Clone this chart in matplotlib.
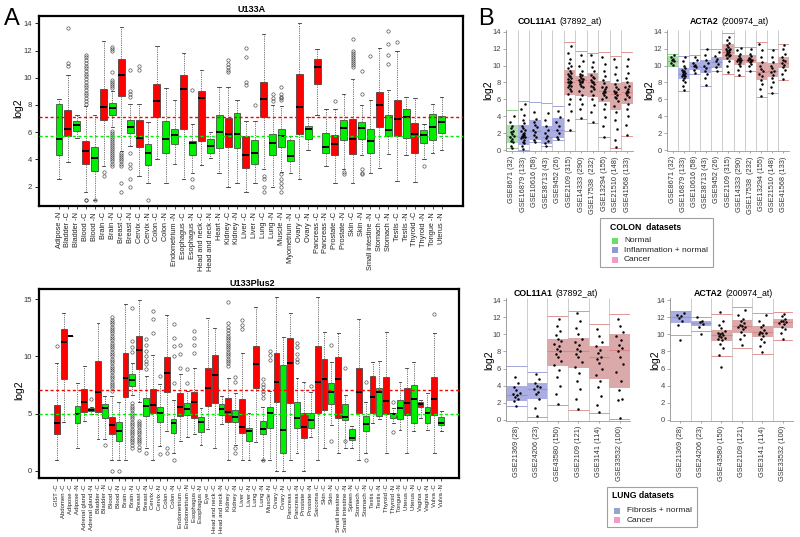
#! /usr/bin/env python3
#
# Tissue expression boxplots (A) and colon / lung dataset strip plots (B)

import matplotlib

matplotlib.use("Agg")

import matplotlib.pyplot as plt
import numpy as np
from matplotlib.patches import Rectangle

plt.rcParams["font.family"] = ["Liberation Sans", "DejaVu Sans"]

# ---------------------------------------------------------------- Panel A, U133A
a1_labels = ["Adipose -N", "Bladder -C", "Bladder -N", "Blood -C", "Blood -N", "Brain -C", "Brain -N",
             "Breast -C", "Breast -N", "Cervix -C", "Cervix -N", "Colon -C", "Colon -N", "Endometrium -N",
             "Esophagus -C", "Esophagus -N", "Head and neck -C", "Head and neck -N", "Heart -N", "Kidney -C",
             "Kidney -N", "Liver -C", "Liver -N", "Lung -C", "Lung -N", "Muscle -N", "Myometrium -N",
             "Ovary -C", "Ovary -N", "Pancreas -C", "Pancreas -N", "Prostate -C", "Prostate -N", "Skin -C",
             "Skin -N", "Small intestine -N", "Stomach -C", "Stomach -N", "Testis -C", "Testis -N",
             "Thyroid -C", "Thyroid -N", "Tongue -N", "Uterus -N"]
a1_lo = [2.6, 3.8, 5.6, 1.6, 1.05, 3.5, 6.4, 4.6, 5.0, 2.8, 2.3, 4.0, 2.3, 3.7, 2.6, 3.0, 3.6, 4.1, 3.0, 2.0,
         2.3, 1.6, 2.3, 3.3, 2.0, 3.1, 3.0, 2.6, 4.7, 7.3, 3.5, 2.3, 3.3, 2.3, 4.3, 3.0, 3.4, 4.4, 2.4, 4.3,
         2.35, 4.0, 4.5, 4.7]
a1_q1 = [4.35, 5.75, 6.1, 3.7, 3.15, 6.9, 7.3, 8.65, 5.95, 4.9, 3.6, 7.1, 4.5, 5.1, 6.25, 4.35, 5.35, 4.45,
         4.85, 4.9, 4.85, 3.35, 3.7, 7.1, 4.3, 4.9, 3.85, 5.85, 5.5, 9.55, 4.5, 4.3, 5.45, 4.4, 5.5, 4.45,
         6.35, 5.7, 5.7, 5.55, 4.5, 5.2, 5.4, 5.95]
a1_med = [5.5, 6.25, 6.5, 4.6, 4.1, 7.85, 7.8, 10.2, 6.4, 5.6, 4.45, 8.3, 5.5, 5.8, 9.15, 5.2, 8.5, 5.0, 6.05,
          5.9, 5.85, 4.3, 4.5, 8.45, 5.2, 5.7, 4.25, 7.85, 6.25, 10.8, 4.95, 5.15, 6.3, 5.5, 6.3, 5.35, 8.0,
          6.15, 7.0, 7.15, 5.85, 5.8, 6.35, 6.75]
a1_q3 = [8.1, 7.6, 6.85, 5.35, 4.95, 9.2, 8.15, 11.4, 6.9, 6.9, 5.15, 9.55, 6.85, 6.2, 10.2, 5.35, 9.0, 5.5,
         7.3, 7.05, 7.4, 5.7, 5.4, 9.7, 5.85, 6.25, 5.45, 10.3, 6.45, 11.4, 5.95, 5.8, 6.9, 7.0, 6.75, 6.2,
         8.95, 7.3, 8.35, 7.7, 6.7, 6.15, 7.35, 7.2]
a1_hi = [8.45, 10.2, 7.25, 7.9, 7.25, 12.7, 9.0, 13.75, 8.1, 8.1, 6.75, 12.3, 9.25, 8.4, 11.8, 6.6, 10.6, 6.0,
         9.35, 9.3, 8.4, 6.85, 6.85, 13.2, 8.0, 7.9, 5.7, 14.05, 7.15, 12.1, 7.7, 7.7, 8.8, 9.9, 8.0, 8.4,
         12.2, 9.1, 12.0, 8.6, 8.5, 6.6, 8.1, 8.6]
a1_fliers = {
    "Bladder -C": [10.9, 11.1, 13.65],
    "Blood -C": [1.0, 1.05, 8.1, 8.3, 8.5, 8.7, 8.9, 9.1, 9.3, 9.5, 9.7, 9.9, 10.1, 10.3, 10.5, 10.7, 10.9,
                 11.1, 11.3, 11.5, 11.7],
    "Blood -N": [1.0],
    "Brain -C": [3.1, 2.8],
    "Brain -N": [9.25, 9.4, 9.55, 9.7, 9.85, 10.45, 11.95, 12.1, 12.25, 6.1, 5.95, 5.8, 5.65, 5.5, 5.35, 5.2,
                 5.05, 4.9, 4.75, 4.6, 4.45, 4.3, 4.15, 4.0, 3.85, 3.7, 3.55],
    "Breast -C": [4.45, 4.3, 4.15, 4.0, 3.85, 3.7, 3.5, 2.3, 1.6],
    "Breast -N": [8.6, 8.8, 9.0, 10.6, 4.5, 3.7, 3.4, 2.6, 2.0],
    "Cervix -C": [10.6, 10.9],
    "Cervix -N": [1.0],
    "Esophagus -N": [9.1, 2.6, 2.0],
    "Kidney -C": [10.4, 10.6, 10.8, 11.0, 11.3],
    "Liver -C": [9.5, 9.7, 11.5, 12.2],
    "Liver -N": [8.0],
    "Lung -C": [2.8, 2.6, 2.0, 1.6],
    "Lung -N": [8.3, 8.5, 8.8],
    "Muscle -N": [8.4, 8.5, 8.6, 8.8, 9.3, 2.9, 2.6, 2.3, 2.0, 1.6],
    "Prostate -C": [8.3],
    "Prostate -N": [2.9, 3.1],
    "Skin -C": [10.8, 10.95, 11.1, 11.25, 11.4, 11.55, 11.7, 11.85, 12.0, 12.85],
    "Skin -N": [8.8, 10.5, 3.3, 3.0, 2.9],
    "Small intestine -N": [11.6],
    "Stomach -N": [11.0, 11.7, 12.5, 13.4],
    "Testis -C": [12.6],
    "Thyroid -N": [3.5],
}
a1_ref = (7.15, 5.75)  # red (cancer) and green (normal) reference levels

# ---------------------------------------------------------------- Panel A, U133Plus2
a2_labels = ["GIST -C", "Abdomen -C", "Adipose -C", "Adipose -N", "Adrenal gland -C", "Adrenal gland -N",
             "Bladder -C", "Bladder -N", "Blood -C", "Blood -N", "Brain -C", "Brain -N", "Breast -C",
             "Breast -N", "Cervix -C", "Cervix -N", "Colon -C", "Colon -N", "Endometrium -C", "Endometrium -N",
             "Esophagus -C", "Esophagus -N", "Eye -C", "Head and neck -C", "Head and neck -N", "Kidney -C",
             "Kidney -N", "Liver -C", "Liver -N", "Lung -C", "Lung -N", "Muscle -N", "Ovary -C", "Ovary -N",
             "Pancreas -C", "Pancreas -N", "Prostate -C", "Prostate -N", "Sarcoma -C", "Skin -C", "Skin -N",
             "Small intestine -C", "Small intestine -N", "Spleen -N", "Stomach -C", "Stomach -N", "Testis -C",
             "Testis -N", "Thyroid -C", "Thyroid -N", "Tongue -N", "Uterus -C", "Uterus -N", "Vagina -C",
             "Vagina -N", "Vulva -C", "Vulva -N"]
a2_lo = [1.0, 4.3, 11.8, 2.0, 4.4, 5.0, 2.8, 2.8, 1.0, 1.0, 1.0, 6.6, 6.0, 2.0, 1.0, 2.2, 3.5, 1.6, 2.6, 3.0,
         3.2, 2.3, 3.7, 1.97, 4.1, 1.0, 2.3, 1.0, 1.0, 2.5, 1.0, 1.0, 0.0, 0.0, 1.0, 1.6, 0.0, 3.0, 1.0, 2.0,
         4.0, 1.6, 2.0, 2.0, 1.0, 1.6, 4.2, 4.5, 1.6, 4.2, 3.6, 1.6, 3.5, 4.6, 3.6, 1.6, 3.5]
a2_q1 = [3.2, 8.0, 11.8, 4.15, 5.17, 5.22, 5.17, 4.65, 3.23, 2.62, 6.48, 7.44, 8.9, 4.82, 5.03, 4.3, 6.86,
         3.34, 4.82, 4.88, 4.59, 3.43, 5.69, 5.9, 4.88, 4.24, 4.24, 3.34, 2.62, 7.26, 3.2, 3.78, 6.04, 1.6,
         5.9, 3.72, 2.85, 3.78, 5.03, 5.32, 5.81, 4.65, 4.45, 2.7, 5.03, 3.49, 5.03, 4.82, 4.94, 4.59, 4.5,
         4.88, 4.2, 5.54, 4.16, 4.88, 4.0]
a2_med = [4.15, 11.25, 11.8, 4.94, 6.0, 5.35, 6.92, 5.45, 4.0, 3.5, 8.08, 7.94, 10.55, 5.7, 5.75, 5.03, 8.57,
          4.16, 5.6, 5.4, 5.99, 4.24, 7.21, 8.37, 5.4, 5.17, 4.74, 3.86, 3.49, 9.3, 3.66, 5.1, 7.79, 3.57,
          9.39, 4.59, 3.86, 4.45, 7.79, 8.02, 6.92, 8.02, 4.74, 2.9, 6.86, 4.14, 6.48, 6.86, 6.1, 4.94, 5.5,
          5.9, 6.28, 5.8, 5.08, 6.28, 4.21]
a2_q3 = [5.75, 12.4, 11.8, 5.7, 7.12, 5.45, 9.6, 5.84, 4.71, 4.3, 10.26, 8.43, 11.8, 6.39, 7.15, 5.6, 9.91,
         4.53, 6.77, 5.9, 6.86, 4.68, 9.0, 10.1, 5.84, 6.34, 5.32, 6.25, 3.78, 10.9, 4.36, 5.6, 10.3, 9.24,
         11.57, 6.04, 5.03, 5.1, 10.9, 9.76, 7.64, 9.97, 5.81, 3.66, 9.0, 4.82, 8.31, 7.21, 8.22, 5.1, 6.15,
         7.2, 7.5, 6.04, 5.54, 8.17, 4.73]
a2_hi = [9.4, 13.8, 11.8, 7.7, 9.18, 5.6, 12.9, 6.5, 6.5, 6.0, 14.6, 9.4, 14.9, 8.3, 10.1, 7.6, 13.6, 6.2,
         8.5, 7.0, 9.0, 5.5, 13.37, 12.5, 6.5, 8.1, 6.8, 10.26, 5.1, 14.3, 5.6, 7.0, 15.2, 11.7, 13.8, 8.1,
         7.79, 6.9, 15.2, 12.15, 9.47, 12.0, 6.6, 3.9, 13.3, 6.0, 9.53, 9.6, 12.15, 5.5, 7.8, 9.0, 9.5, 6.2,
         6.8, 12.06, 5.2]
a2_fliers = {
    "GIST -C": [10.9],
    "Adrenal gland -N": [6.3],
    "Bladder -N": [2.3],
    "Blood -C": [0.0, 7.0, 7.2, 7.4, 7.6, 7.8, 8.0, 8.2, 8.4, 8.6, 8.8, 9.0, 9.2, 9.4, 9.6, 9.8, 10.0, 10.2,
                 10.4, 10.6, 10.8, 11.0, 11.2, 11.4, 11.6, 11.8, 12.0, 12.2, 12.4, 12.6, 12.8, 13.0, 13.2, 13.4],
    "Blood -N": [0.0],
    "Brain -N": [10.4, 10.8, 11.3, 14.2, 5.9, 5.7, 5.5, 5.3, 5.1, 4.9, 4.7, 4.5, 4.3, 4.1, 3.9, 3.7, 3.5,
                 3.3, 3.1, 2.9, 2.7, 2.5, 2.3, 2.0],
    "Breast -C": [4.4, 4.2, 4.0, 3.8, 3.6, 3.4, 3.2, 3.0, 2.8, 2.6, 2.4, 2.1, 1.8],
    "Breast -N": [8.9, 9.3, 9.6, 10.0, 10.5, 11.0, 11.5, 1.6],
    "Cervix -C": [12.0, 13.3, 14.0],
    "Cervix -N": [8.3, 1.5],
    "Colon -C": [2.0, 1.6],
    "Colon -N": [7.7, 10.0, 10.9, 11.6, 12.8, 1.0],
    "Endometrium -C": [9.0, 10.2, 11.0],
    "Endometrium -N": [7.7, 8.9],
    "Esophagus -C": [10.3, 11.0, 11.6, 12.2],
    "Kidney -C": [9.2, 9.4, 9.6, 9.8, 10.0, 10.2, 10.4, 10.6, 10.8, 11.0, 11.2, 11.4, 11.6, 11.8, 12.0, 12.3,
                  12.6, 12.9, 14.7],
    "Kidney -N": [7.8, 8.2, 2.0, 1.6],
    "Liver -C": [12.4, 12.7, 13.2],
    "Lung -N": [6.4, 6.7, 7.0, 7.3, 7.6, 8.0, 1.0],
    "Muscle -N": [9.7, 10.1, 10.5],
    "Pancreas -N": [9.5, 9.8, 10.2, 10.8, 11.2],
    "Prostate -N": [7.4],
    "Skin -N": [11.0, 2.6],
    "Small intestine -N": [9.0, 2.6],
    "Stomach -N": [7.8, 1.0],
    "Thyroid -N": [6.0, 3.4],
    "Vulva -C": [13.7],
}
a2_ref = (7.05, 4.94)

# ---------------------------------------------------------------- Panel B, colon datasets
colon_names = ["GSE8671 (32)", "GSE16879 (133)", "GSE10616 (58)", "GSE38713 (43)", "GSE9452 (26)",
               "GSE2109 (315)", "GSE14333 (290)", "GSE17538  (232)", "GSE13294 (155)", "GSE21510 (148)",
               "GSE41568 (133)"]
colon_groups = ["n", "i", "i", "i", "i", "c", "c", "c", "c", "c", "c"]

col_colon_lo = [0.2, 0.0, 1.0, 0.5, 1.2, 2.2, 3.7, 3.2, 1.5, 0.2, 1.7]
col_colon_q1 = [0.85, 0.6, 1.2, 0.7, 1.4, 6.5, 6.4, 6.3, 5.7, 4.7, 5.5]
col_colon_med = [1.7, 1.6, 2.3, 1.6, 2.4, 8.0, 8.3, 8.0, 7.0, 6.6, 6.9]
col_colon_q3 = [2.95, 2.95, 3.6, 2.85, 3.8, 9.5, 8.75, 9.1, 8.2, 7.9, 8.1]
col_colon_hi = [4.7, 5.8, 5.7, 5.6, 5.2, 12.8, 11.7, 11.5, 11.6, 11.1, 11.6]
col_colon_dots = [
    [0.2, 0.5, 0.9, 1.1, 1.3, 1.5, 1.7, 1.9, 2.1, 2.3, 2.6, 2.9, 3.3, 4.0],
    [0.1, 0.5, 0.8, 1.0, 1.2, 1.4, 1.5, 1.6, 1.7, 1.8, 1.9, 2.0, 2.2, 2.4, 2.6, 2.9, 3.2, 3.6, 4.1, 4.8, 5.4],
    [0.9, 1.2, 1.5, 1.8, 2.1, 2.4, 2.7, 3.0, 3.3, 3.7, 4.5],
    [0.5, 0.8, 1.1, 1.4, 1.7, 2.0, 2.4, 2.9, 3.6, 4.4],
    [1.3, 1.6, 2.0, 2.4, 2.8, 3.3, 3.9, 4.6],
    [2.4, 3.5, 4.6, 5.4, 6.0, 6.6, 7.0, 7.2, 7.4, 7.6, 7.7, 7.9, 8.0, 8.1, 8.2, 8.4, 8.5, 8.7, 8.8, 9.0,
     9.1, 9.4, 9.7, 10.0, 10.3, 10.8, 11.5, 12.3],
    [3.8, 4.8, 5.5, 6.0, 6.5, 7.0, 7.4, 7.6, 7.8, 8.0, 8.1, 8.2, 8.3, 8.4, 8.5, 8.7, 8.9, 9.0, 9.4, 9.9,
     10.5, 11.3],
    [3.3, 4.5, 5.3, 6.0, 6.5, 7.0, 7.2, 7.4, 7.6, 7.8, 8.0, 8.1, 8.3, 8.5, 8.6, 8.9, 9.3, 9.8, 10.4, 11.2],
    [1.6, 2.8, 3.9, 4.8, 5.5, 6.0, 6.3, 6.5, 6.7, 6.9, 7.0, 7.2, 7.4, 7.5, 7.9, 8.3, 8.8, 9.4, 10.2, 11.0],
    [0.3, 1.2, 2.5, 3.6, 4.5, 5.2, 5.8, 6.1, 6.3, 6.5, 6.7, 6.9, 7.0, 7.2, 7.4, 7.8, 8.3, 9.0, 9.8, 10.8],
    [1.8, 3.0, 4.0, 4.9, 5.5, 6.0, 6.3, 6.5, 6.7, 6.9, 7.0, 7.2, 7.4, 7.6, 8.0, 8.5, 9.1, 9.9, 10.8],
]

acta_colon_lo = [10.0, 7.0, 9.0, 7.6, 9.3, 9.0, 8.8, 9.3, 6.3, 6.7, 8.3]
acta_colon_q1 = [10.0, 8.37, 9.47, 9.07, 9.67, 10.65, 10.06, 10.25, 8.28, 8.67, 9.67]
acta_colon_med = [10.5, 9.0, 10.0, 9.8, 10.4, 11.6, 10.6, 10.7, 9.2, 9.3, 10.3]
acta_colon_q3 = [11.1, 9.67, 10.45, 10.7, 11.0, 12.6, 11.25, 11.2, 10.45, 10.25, 10.95]
acta_colon_hi = [11.4, 11.1, 11.3, 12.0, 11.9, 13.8, 12.2, 12.2, 12.8, 12.0, 12.5]
acta_colon_dots = [
    [10.1, 10.3, 10.5, 10.6, 10.8, 11.0, 11.2],
    [7.1, 7.6, 8.0, 8.3, 8.5, 8.7, 8.8, 8.9, 9.0, 9.1, 9.2, 9.3, 9.5, 9.7, 10.0, 10.5, 11.0],
    [9.1, 9.5, 9.8, 10.0, 10.1, 10.3, 10.6, 11.0],
    [7.7, 8.5, 9.0, 9.4, 9.7, 10.0, 10.3, 10.7, 11.2, 11.9],
    [9.4, 9.8, 10.2, 10.5, 10.8, 11.1, 11.6],
    [9.2, 10.0, 10.5, 10.9, 11.1, 11.2, 11.3, 11.4, 11.5, 11.6, 11.7, 11.8, 11.9, 12.0, 12.2, 12.4, 12.7,
     13.0, 13.4],
    [8.9, 9.5, 9.9, 10.2, 10.4, 10.5, 10.6, 10.7, 10.8, 10.9, 11.1, 11.4, 11.8, 12.1],
    [9.4, 9.9, 10.2, 10.4, 10.5, 10.6, 10.7, 10.8, 10.9, 11.1, 11.4, 11.9],
    [6.4, 7.2, 7.8, 8.3, 8.7, 9.0, 9.3, 9.6, 10.0, 10.4, 11.0, 11.8, 12.6],
    [6.8, 7.5, 8.0, 8.5, 8.9, 9.2, 9.4, 9.7, 10.0, 10.4, 11.0, 11.8],
    [8.4, 9.0, 9.5, 9.8, 10.1, 10.3, 10.5, 10.7, 11.0, 11.4, 12.0, 12.4],
]

# ---------------------------------------------------------------- Panel B, lung datasets
lung_names = ["GSE21369 (28)", "GSE24206 (23)", "GSE43580 (150)", "GSE2109 (121)", "GSE3141 (114)",
              "GSE33532 (100)"]
lung_groups = ["f", "f", "c", "c", "c", "c"]

col_lung_lo = [1.6, 0.4, 1.75, 1.2, 0.8, 0.1]
col_lung_q1 = [2.2, 2.4, 6.3, 6.1, 4.75, 3.7]
col_lung_med = [2.9, 3.6, 8.05, 8.0, 7.4, 8.2]
col_lung_q3 = [3.97, 4.28, 9.41, 9.53, 8.63, 10.03]
col_lung_hi = [6.3, 5.6, 12.13, 12.75, 11.2, 12.37]
col_lung_dots = [
    [1.6, 2.2, 2.5, 2.7, 2.9, 3.0, 3.2, 3.5, 3.8, 4.3, 5.0],
    [0.5, 1.4, 2.5, 3.0, 3.3, 3.6, 3.8, 4.0, 4.3, 4.8, 5.4],
    [1.9, 3.0, 4.0, 5.0, 5.8, 6.4, 6.9, 7.3, 7.7, 8.0, 8.3, 8.6, 8.9, 9.2, 9.5, 9.9, 10.4, 11.0, 11.8],
    [1.3, 2.5, 3.6, 4.6, 5.5, 6.2, 6.8, 7.3, 7.7, 8.0, 8.3, 8.7, 9.1, 9.5, 10.0, 10.7, 11.5, 12.5],
    [0.9, 1.8, 2.8, 3.8, 4.6, 5.3, 6.0, 6.6, 7.1, 7.4, 7.8, 8.2, 8.6, 9.1, 9.8, 10.6],
    [0.2, 2.3, 2.5, 3.5, 4.6, 5.6, 6.5, 7.3, 8.0, 8.4, 8.8, 9.3, 9.8, 10.3, 11.0, 11.8],
]

acta_lung_lo = [9.9, 10.4, 7.5, 8.45, 7.7, 9.33]
acta_lung_q1 = [11.35, 10.97, 9.25, 10.2, 9.72, 10.7]
acta_lung_med = [12.05, 11.3, 9.9, 11.0, 10.3, 11.4]
acta_lung_q3 = [12.56, 11.55, 10.5, 11.66, 10.97, 11.75]
acta_lung_hi = [12.75, 12.0, 12.4, 13.2, 12.45, 12.6]
acta_lung_dots = [
    [9.3, 11.1, 11.6, 11.9, 12.1, 12.3, 12.5],
    [10.0, 10.9, 11.2, 11.4, 11.6, 12.0],
    [6.2, 7.6, 8.4, 8.9, 9.3, 9.5, 9.6, 9.7, 9.8, 9.9, 10.0, 10.1, 10.2, 10.4, 10.7, 11.1, 11.6, 12.6],
    [8.7, 9.4, 9.9, 10.3, 10.6, 10.8, 10.9, 11.0, 11.1, 11.3, 11.5, 11.8, 12.2, 12.8],
    [7.9, 8.6, 9.1, 9.5, 9.8, 10.0, 10.1, 10.2, 10.3, 10.5, 10.8, 11.1, 11.6, 12.2],
    [9.4, 10.2, 10.6, 10.9, 11.2, 11.3, 11.4, 11.5, 11.6, 11.8, 12.1, 12.4],
]

colon_legend = [("Normal", "#66e066"), ("Inflammation + normal", "#8c9ad8"), ("Cancer", "#f49ac6")]
lung_legend = [("Fibrosis + normal", "#93a6cc"), ("Cancer", "#f49ac6")]

# ---------------------------------------------------------------- styling
W, H = 800, 537
RED = "#ff0000"
GREEN = "#00ee00"
FILL = {"n": "#a8e2a8", "i": "#abaee3", "f": "#abaee3", "c": "#dba9a9"}
LINE = {"n": "#80c880", "i": "#9396d6", "f": "#9396d6", "c": "#d98686"}
DOT_OFFSETS = np.array([0.0, -0.1, 0.1, -0.05, 0.05, -0.16, 0.16])


def px(x, y):
    """Pixel position (top-left origin) -> figure fraction."""
    return x / W, 1 - y / H


def rect(x0, y0, x1, y1):
    return [x0 / W, 1 - y1 / H, (x1 - x0) / W, (y1 - y0) / H]


def box_panel(ax, labels, lo, q1, med, q3, hi, fliers, ref, xlim, ylim, yticks, label_size, width):
    stats = [
        dict(whislo=lo[i], q1=q1[i], med=med[i], q3=q3[i], whishi=hi[i], fliers=fliers.get(lab, []))
        for i, lab in enumerate(labels)
    ]
    pos = np.arange(len(labels))
    art = ax.bxp(
        stats,
        positions=pos,
        widths=width,
        capwidths=width * 0.5,
        patch_artist=True,
        boxprops=dict(edgecolor="#333333", linewidth=0.5),
        medianprops=dict(color="black", linewidth=1.4),
        whiskerprops=dict(color="#666666", linestyle=(0, (1.5, 1.2)), linewidth=0.6),
        capprops=dict(color="#333333", linewidth=0.6),
        flierprops=dict(marker="o", markersize=2.4, markerfacecolor="none",
                        markeredgecolor="#444444", markeredgewidth=0.45),
    )
    for patch, lab in zip(art["boxes"], labels):
        patch.set_facecolor(RED if lab.endswith("-C") else GREEN)

    ax.axhline(ref[0], color=RED, linestyle=(0, (2.2, 1.8)), linewidth=1.0, zorder=6)
    ax.axhline(ref[1], color=GREEN, linestyle=(0, (2.2, 1.8)), linewidth=1.0, zorder=6)

    ax.set_xlim(*xlim)
    ax.set_ylim(*ylim)
    ax.set_xticks(pos)
    ax.set_xticklabels(labels, rotation=90, fontsize=label_size, color="#222222")
    ax.set_yticks(yticks)
    ax.tick_params(axis="y", labelsize=5.5, length=3, width=0.6, pad=2, labelcolor="#333333")
    ax.tick_params(axis="x", length=2.5, width=0.5, pad=2)
    for s in ax.spines.values():
        s.set_linewidth(1.6)


def strip_panel(ax, names, groups, lo, q1, med, q3, hi, dots, ylim):
    n = len(names)
    for i in range(n):
        g = groups[i]
        ax.add_patch(Rectangle((i, q1[i]), 1, q3[i] - q1[i], facecolor=FILL[g], edgecolor="none", zorder=1))
        ax.hlines([lo[i], hi[i]], i, i + 1, colors=LINE[g], linewidth=0.6, zorder=2)
        ax.hlines(med[i], i, i + 1, colors=LINE[g], linewidth=0.8, zorder=2)
        vals = np.asarray(dots[i])
        ax.scatter(i + 0.5 + np.resize(DOT_OFFSETS, len(vals)), vals, s=3.2, c="black",
                   linewidths=0, zorder=3)
    ax.vlines(np.arange(n + 1), ylim[0], ylim[1], colors="#c4c4c4", linewidth=0.6, zorder=0)
    ax.set_xlim(0, n)
    ax.set_ylim(*ylim)
    ax.set_xticks(np.arange(n) + 0.5)
    ax.set_xticklabels(names, rotation=90, fontsize=5.3, color="#333333")
    ax.set_yticks(range(0, 15, 2))
    ax.tick_params(axis="y", labelsize=5.5, length=2, width=0.5, pad=1.5, color="#888888",
                   labelcolor="#444444")
    ax.tick_params(axis="x", length=1.5, width=0.5, pad=2, color="#888888")
    for s in ("top", "right"):
        ax.spines[s].set_visible(False)
    for s in ("left", "bottom"):
        ax.spines[s].set_color("#999999")
        ax.spines[s].set_linewidth(0.6)


def split_title(x_split, y, bold, rest):
    fig.text(*px(x_split, y), bold, ha="right", va="center", fontsize=6.3, fontweight="bold")
    fig.text(*px(x_split + 2, y), rest, ha="left", va="center", fontsize=6.3)


def legend_box(x0, y0, x1, y1, title, title_y, entries, entry_ys, sq_x, text_x):
    fig.add_artist(Rectangle(px(x0, y1), (x1 - x0) / W, (y1 - y0) / H, transform=fig.transFigure,
                             facecolor="white", edgecolor="#a0a0a0", linewidth=0.8))
    fig.text(*px(sq_x - 2, title_y), title, ha="left", va="center", fontsize=6.2, fontweight="bold")
    for (lab, color), y in zip(entries, entry_ys):
        fig.add_artist(Rectangle(px(sq_x, y + 3), 6 / W, 6 / H, transform=fig.transFigure,
                                 facecolor=color, edgecolor="none"))
        fig.text(*px(text_x, y), lab, ha="left", va="center", fontsize=6.0, color="#222222")


fig = plt.figure(figsize=(W / 100, H / 100), dpi=100)

# ---- A
ax_a1 = fig.add_axes(rect(39, 15.7, 463, 206))
box_panel(ax_a1, a1_labels, a1_lo, a1_q1, a1_med, a1_q3, a1_hi, a1_fliers, a1_ref,
          (-2.25, 45.4), (0.58, 14.56), range(2, 15, 2), 5.3, 0.78)
ax_a2 = fig.add_axes(rect(39, 289.3, 459, 478.3))
box_panel(ax_a2, a2_labels, a2_lo, a2_q1, a2_med, a2_q3, a2_hi, a2_fliers, a2_ref,
          (-2.6, 58.6), (-0.64, 15.85), [0, 5, 10, 15], 4.3, 0.85)

fig.text(*px(252, 9), "U133A", ha="center", va="center", fontsize=6.5, fontweight="bold")
fig.text(*px(252, 283), "U133Plus2", ha="center", va="center", fontsize=6.5, fontweight="bold")
fig.text(*px(18, 108), "log2", rotation=90, ha="center", va="center", fontsize=7.5)
fig.text(*px(19, 390), "log2", rotation=90, ha="center", va="center", fontsize=7.5)
fig.text(*px(12, 19), "A", ha="center", va="center", fontsize=17)
fig.text(*px(486, 19), "B", ha="center", va="center", fontsize=17)

# ---- B, colon
ylim_top = (-0.15, 14.2)
ax_b1 = fig.add_axes(rect(506, 30, 633, 151.3))
strip_panel(ax_b1, colon_names, colon_groups, col_colon_lo, col_colon_q1, col_colon_med, col_colon_q3,
            col_colon_hi, col_colon_dots, ylim_top)
ax_b2 = fig.add_axes(rect(667, 30, 789, 151.3))
strip_panel(ax_b2, colon_names, colon_groups, acta_colon_lo, acta_colon_q1, acta_colon_med, acta_colon_q3,
            acta_colon_hi, acta_colon_dots, ylim_top)
split_title(557, 21.5, "COL11A1", "(37892_at)")
split_title(719, 21.5, "ACTA2", "(200974_at)")
fig.text(*px(488, 90), "log2", rotation=90, ha="center", va="center", fontsize=7.5)
fig.text(*px(649, 90), "log2", rotation=90, ha="center", va="center", fontsize=7.5)

# ---- B, lung
ylim_bot = (-0.12, 14.25)
ax_b3 = fig.add_axes(rect(506, 297.9, 630, 421))
strip_panel(ax_b3, lung_names, lung_groups, col_lung_lo, col_lung_q1, col_lung_med, col_lung_q3,
            col_lung_hi, col_lung_dots, ylim_bot)
ax_b4 = fig.add_axes(rect(670, 297.9, 793, 421))
strip_panel(ax_b4, lung_names, lung_groups, acta_lung_lo, acta_lung_q1, acta_lung_med, acta_lung_q3,
            acta_lung_hi, acta_lung_dots, ylim_bot)
split_title(553, 293, "COL11A1", "(37892_at)")
split_title(723, 293, "ACTA2", "(200974_at)")
fig.text(*px(489, 360), "log2", rotation=90, ha="center", va="center", fontsize=7.5)
fig.text(*px(655, 360), "log2", rotation=90, ha="center", va="center", fontsize=7.5)

# ---- legends
legend_box(600, 218, 713, 267, "COLON  datasets", 227.5, colon_legend, [240.5, 250, 260], 612, 624)
legend_box(607, 487, 697, 527, "LUNG datasets", 495.5, lung_legend, [510.5, 520], 614, 627)

fig.savefig("out.png", dpi=100)
